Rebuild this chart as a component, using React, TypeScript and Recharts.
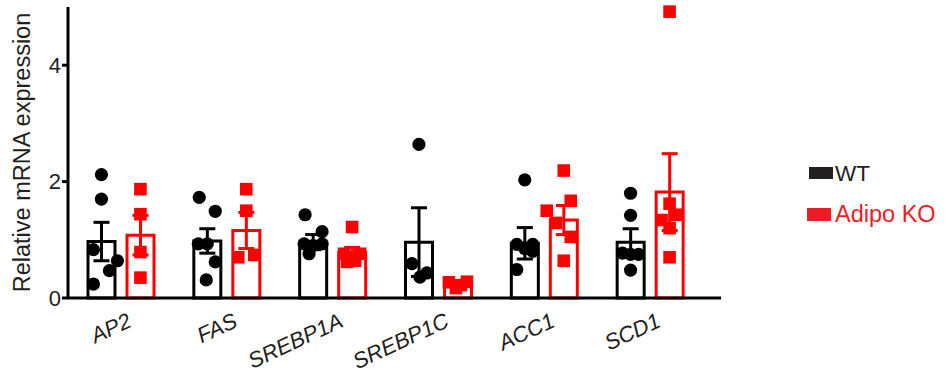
import { ComposedChart, Bar, ErrorBar, Scatter, XAxis, YAxis, Legend, Label } from 'recharts';

const genes = ['AP2', 'FAS', 'SREBP1A', 'SREBP1C', 'ACC1', 'SCD1'];
const wtMean = [0.97, 0.98, 0.96, 0.96, 0.94, 0.96];
const wtSem = [0.33, 0.21, 0.13, 0.59, 0.27, 0.23];
const koMean = [1.08, 1.16, 0.78, 0.22, 1.34, 1.82];
const koSem = [0.34, 0.31, 0.09, 0.03, 0.25, 0.66];

// individual animals, per gene
const wtPoints = [
  [2.12, 1.7, 0.83, 0.64, 0.47, 0.24],
  [1.73, 1.49, 0.93, 0.93, 0.62, 0.31],
  [1.43, 1.14, 0.93, 0.9, 0.93, 0.76],
  [2.64, 0.59, 0.36, 0.43],
  [2.03, 0.92, 0.92, 0.85, 0.8, 0.49],
  [1.8, 1.42, 0.77, 0.75, 0.75, 0.48],
];
const koPoints = [
  [1.87, 1.44, 0.79, 0.35],
  [1.87, 1.5, 0.7, 0.74],
  [1.22, 0.76, 0.76, 0.7, 0.64, 0.62],
  [0.27, 0.17, 0.22, 0.28],
  [2.19, 1.67, 1.5, 1.29, 1.05, 0.64],
  [4.92, 1.62, 1.34, 1.43, 1.2, 0.7],
];
// horizontal scatter (px) around each bar centre
const wtJitter = [
  [0, 0, -8, 16, 8, -8],
  [-8, 8, -9, 0, 8, -1],
  [-8, 9, -9, 0, 9, -4],
  [0, -7, 1, 8],
  [0, -8, 8, 0, 8, -8],
  [0, 0, -8, 8, 0, 0],
];
const koJitter = [
  [0, 0, 0, 0],
  [0, 0, -8, 8],
  [0, -8, 8, -2, 3, -5],
  [-9, -2, 3, 9],
  [0, 7, -17, -8, 7, 0],
  [0, 0, -8, 7, 0, 0],
];
const yTicks = [0, 2, 4];

const BAR_SIZE = 27;
const BAR_GAP = 12;
const HALF = (BAR_SIZE + BAR_GAP) / 2;
const FONT = '"Liberation Sans", Arial, sans-serif';
const INK = '#231f20';
const RED = '#ff0000';
const TICK_ANGLE = -25;

const data = genes.map((g, i) => ({
  gene: g,
  wt: wtMean[i],
  wtErr: wtSem[i],
  ko: koMean[i],
  koErr: koSem[i],
}));

const toPoints = (vals: number[][], jit: number[][], side: number) =>
  vals.flatMap((arr, i) => arr.map((v, j) => ({ x: i + 0.5, y: v, dx: side * HALF + jit[i][j] })));

const wtScatter = toPoints(wtPoints, wtJitter, -1);
const koScatter = toPoints(koPoints, koJitter, 1);

// italic gene names, tilted up to the right and ending just past the group centre
const GeneTick = (props: any) => {
  const { x, y, payload } = props;
  const tx = x + 12;
  const ty = y + 20;
  return (
    <g transform={`translate(${tx} ${ty})`}>
      <g transform={`rotate(${TICK_ANGLE})`}>
        <text x={0} y={0} textAnchor="end" fontStyle="italic" fontSize={22} fontFamily={FONT} fill={INK}>
          {payload.value}
        </text>
      </g>
    </g>
  );
};

const Dot = (props: any) => {
  const { cx, cy, payload } = props;
  return <circle cx={cx + payload.dx} cy={cy} r={6.6} fill="#000" />;
};

const Sq = (props: any) => {
  const { cx, cy, payload } = props;
  return <rect x={cx + payload.dx - 6.3} y={cy - 6.3} width={12.6} height={12.6} fill={RED} />;
};

const renderLegend = () => (
  <svg width={141} height={70} style={{ display: 'block' }}>
    <rect x={4} y={7} width={24} height={12} fill={INK} />
    <text x={30} y={20.5} fontSize={22.5} fontFamily={FONT} fill={INK}>WT</text>
    <rect x={2} y={48} width={24} height={13} fill="#ed1c24" />
    <text x={30} y={61.5} fontSize={23.5} fontFamily={FONT} fill="#ed1c24">Adipo KO</text>
  </svg>
);

export default function App() {
  return (
    <div style={{ position: 'absolute', left: 0, top: 0, width: 946, height: 385, background: '#fff' }}>
      <ComposedChart
        width={946}
        height={385}
        data={data}
        barSize={BAR_SIZE}
        barGap={BAR_GAP}
        margin={{ top: 7, right: 225, bottom: 0, left: 0 }}
      >
        <XAxis
          xAxisId="cat"
          dataKey="gene"
          type="category"
          height={87}
          padding={{ left: 0, right: 18 }}
          axisLine={{ stroke: '#000', strokeWidth: 3 }}
          tickLine={false}
          interval={0}
          tick={GeneTick}
        />
        <XAxis
          xAxisId="pts"
          dataKey="x"
          type="number"
          domain={[0, 6]}
          padding={{ left: 0, right: 18 }}
          hide
        />
        <YAxis
          width={68}
          domain={[0, 5]}
          ticks={yTicks}
          tickSize={6}
          tickMargin={1}
          axisLine={{ stroke: '#000', strokeWidth: 3 }}
          tickLine={{ stroke: '#000', strokeWidth: 3 }}
          tick={{ fontSize: 22, fontFamily: FONT, fill: INK }}
        >
          <Label
            value="Relative mRNA expression"
            angle={-90}
            position="insideLeft"
            offset={22}
            style={{ textAnchor: 'middle', fontSize: 23.5, fontFamily: FONT, fill: INK }}
          />
        </YAxis>
        <Legend
          layout="vertical"
          align="center"
          verticalAlign="middle"
          content={renderLegend}
          wrapperStyle={{ left: 805, top: 160, width: 141, height: 70 }}
        />
        <Bar xAxisId="cat" dataKey="wt" fill="#fff" stroke="#000" strokeWidth={3} isAnimationActive={false}>
          <ErrorBar dataKey="wtErr" width={8} strokeWidth={3} stroke="#000" direction="y" />
        </Bar>
        <Bar xAxisId="cat" dataKey="ko" fill="#fff" stroke={RED} strokeWidth={3} isAnimationActive={false}>
          <ErrorBar dataKey="koErr" width={8} strokeWidth={3} stroke={RED} direction="y" />
        </Bar>
        <Scatter xAxisId="pts" data={wtScatter} dataKey="y" shape={<Dot />} isAnimationActive={false} />
        <Scatter xAxisId="pts" data={koScatter} dataKey="y" shape={<Sq />} isAnimationActive={false} />
      </ComposedChart>
    </div>
  );
}
